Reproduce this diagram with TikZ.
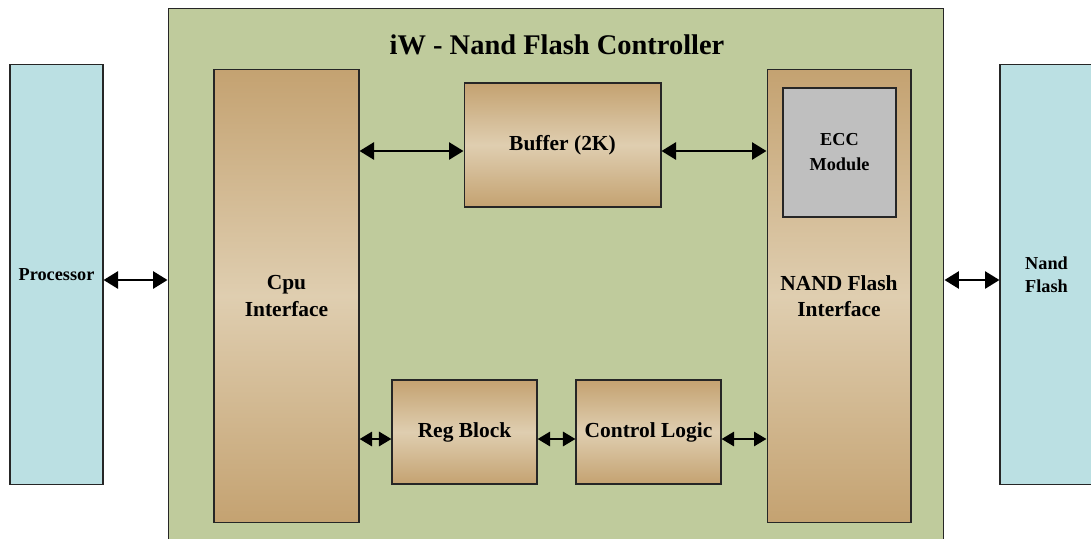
\documentclass[tikz,border=0pt]{standalone}
\usepackage{fontspec}
\setmainfont{Liberation Serif}
\usetikzlibrary{arrows.meta}

\definecolor{bleuext}{RGB}{187,224,227}
\definecolor{vertfond}{RGB}{191,203,156}
\definecolor{tanfonce}{RGB}{196,162,113}
\definecolor{tanclair}{RGB}{223,206,176}
\definecolor{grisecc}{RGB}{191,191,191}

\tikzset{
    bloc/.style={draw=black!85, line width=0.6pt, top color=tanfonce, bottom color=tanfonce,
                 middle color=tanclair, inner sep=0pt, align=center,
                 font=\bfseries\fontsize{12.2}{15}\selectfont},
    externe/.style={draw=black!85, line width=0.6pt, fill=bleuext, inner sep=0pt, align=center,
                 font=\bfseries\fontsize{10.4}{13}\selectfont},
    fleche/.style={{Triangle[length=0.29cm,width=0.34cm]}-{Triangle[length=0.29cm,width=0.34cm]}, line width=1.6pt},
    courte/.style={{Triangle[length=0.25cm,width=0.28cm]}-{Triangle[length=0.25cm,width=0.28cm]}, line width=1.6pt}
}

\begin{document}
\begin{tikzpicture}[x=0.02cm, y=-0.02cm]
    \useasboundingbox (0,0) rectangle (1091,538);

    % Bloc principal
    \node[draw=black!85, line width=0.6pt, fill=vertfond, minimum width=15.52cm, minimum height=10.74cm] (ctrl) at (556,276.5) {};
    \node[font=\bfseries\fontsize{16.2}{19}\selectfont] (titre) at (557,45) {iW - Nand Flash Controller};

    % Blocs externes
    \node[externe, minimum width=1.86cm, minimum height=8.42cm] (proc) at (56.5,274.5) {Processor};
    \node[externe, minimum width=1.86cm, minimum height=8.42cm] (nf) at (1046.5,274.5) {Nand\\Flash};

    % Blocs internes
    \node[bloc, minimum width=2.9cm, minimum height=9.08cm] (cpu) at (286.5,296) {Cpu\\Interface};
    \node[bloc, minimum width=2.88cm, minimum height=9.08cm] (nfi) at (839,296) {NAND Flash\\Interface};
    \node[bloc, minimum width=3.94cm, minimum height=2.48cm] (buf) at (562.5,145) {Buffer (2K)};
    \node[bloc, minimum width=2.9cm, minimum height=2.08cm] (reg) at (464.5,432) {Reg Block};
    \node[bloc, minimum width=2.9cm, minimum height=2.08cm] (logic) at (648.5,432) {Control Logic};
    \node[draw=black!85, line width=0.6pt, fill=grisecc, minimum width=2.26cm, minimum height=2.58cm,
          align=center, font=\bfseries\fontsize{10.4}{14.2}\selectfont] (ecc) at (839.5,152.5) {ECC\\Module};

    % Liaisons
    \draw[fleche] ([yshift=-0.11cm]proc.east) -- ([yshift=-0.11cm]proc.east -| ctrl.west);
    \draw[fleche] ([yshift=-0.11cm]ctrl.east |- nf.west) -- ([yshift=-0.11cm]nf.west);
    \draw[fleche] ([yshift=-0.12cm]cpu.east |- buf.west) -- ([yshift=-0.12cm]buf.west);
    \draw[fleche] ([yshift=-0.12cm]buf.east) -- ([yshift=-0.12cm]buf.east -| nfi.west);
    \draw[courte] ([yshift=-0.14cm]cpu.east |- reg.west) -- ([yshift=-0.14cm]reg.west);
    \draw[courte] ([yshift=-0.14cm]reg.east) -- ([yshift=-0.14cm]logic.west);
    \draw[courte] ([yshift=-0.14cm]logic.east) -- ([yshift=-0.14cm]logic.east -| nfi.west);
\end{tikzpicture}
\end{document}
